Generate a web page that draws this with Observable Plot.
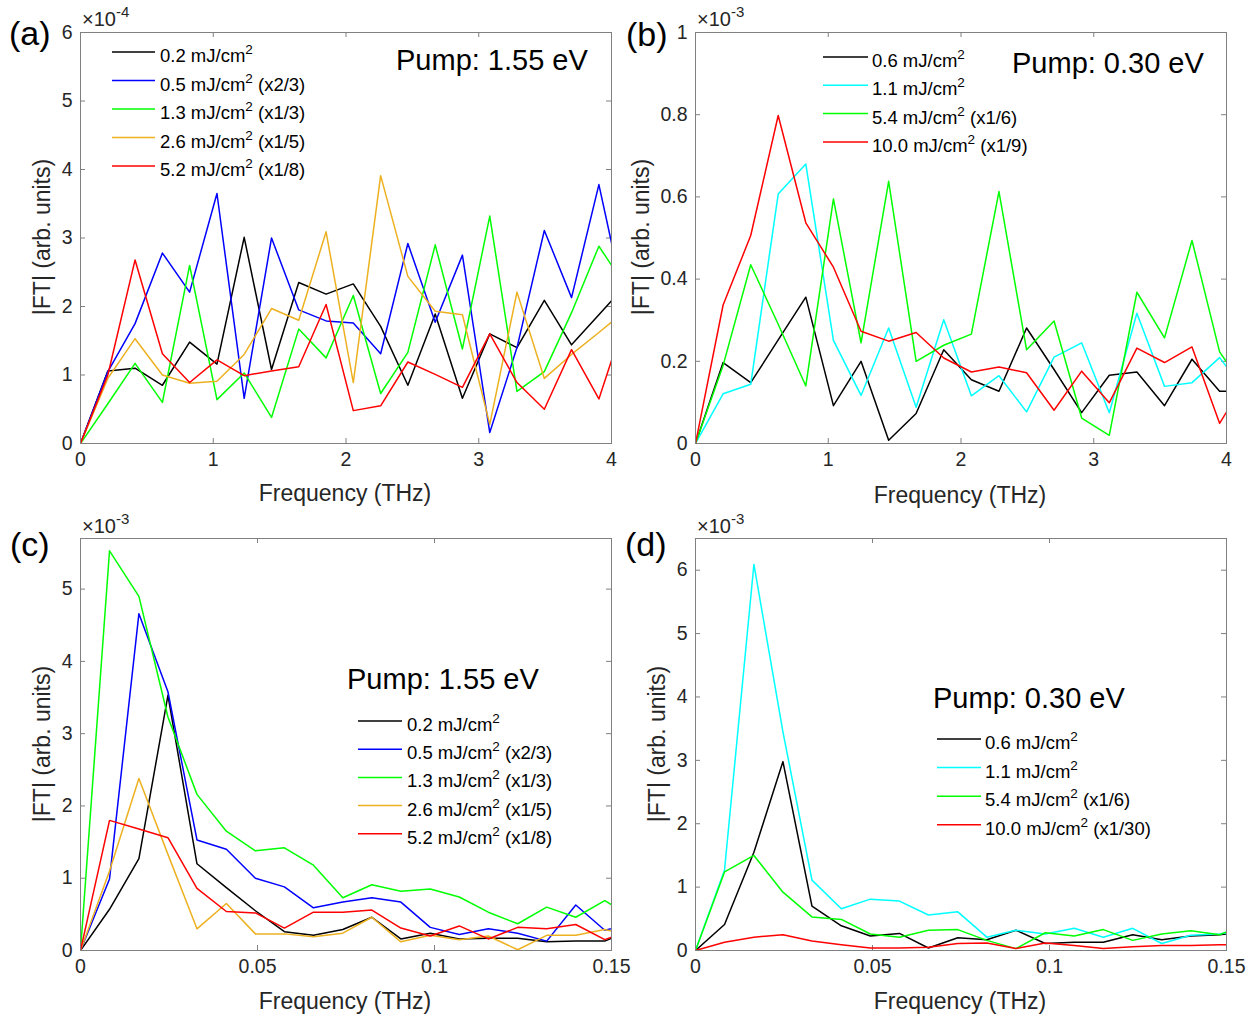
<!DOCTYPE html>
<html><head><meta charset="utf-8">
<script src="https://cdn.jsdelivr.net/npm/d3@7"></script>
<script src="https://cdn.jsdelivr.net/npm/@observablehq/plot@0.6"></script>
<style>
body{margin:0;background:#fff;font-family:"Liberation Sans",Arial,sans-serif;}
#wrap{position:relative;width:1260px;height:1019px;overflow:hidden;}
.panel{position:absolute;}
</style></head><body><div id="wrap"></div>
<script>
// ---------- DATA ----------
// Frequencies (THz)
const freqA = [0,0.206,0.411,0.617,0.822,1.028,1.233,1.439,1.644,1.850,2.055,2.261,2.466,2.672,2.877,3.083,3.288,3.494,3.699,3.905,4.110];
const freqB = [0,0.208,0.416,0.623,0.831,1.039,1.247,1.455,1.662,1.870,2.078,2.286,2.494,2.701,2.909,3.117,3.325,3.533,3.740,3.948,4.156];
const freqC = [0,0.0082,0.0165,0.0247,0.0329,0.0412,0.0494,0.0576,0.0658,0.0741,0.0823,0.0905,0.0988,0.1070,0.1152,0.1235,0.1317,0.1399,0.1481,0.1564];
const freqD = freqC;

// (a) Pump 1.55 eV, |FT| in units of 1e-4
const a_02 = [0,1.06,1.10,0.85,1.48,1.16,3.01,1.08,2.35,2.18,2.33,1.71,0.85,1.89,0.66,1.60,1.40,2.09,1.44,1.88,2.32];
const a_05 = [0,1.05,1.75,2.78,2.21,3.65,0.66,3.00,1.95,1.79,1.76,1.31,2.92,1.77,2.75,0.16,1.40,3.11,2.13,3.78,1.95];
const a_13 = [0,0.58,1.17,0.60,2.60,0.64,1.03,0.38,1.67,1.25,2.16,0.73,1.33,2.90,1.38,3.32,0.76,1.05,1.91,2.88,2.28];
const a_26 = [0,0.95,1.53,1.00,0.88,0.91,1.30,1.97,1.80,3.09,0.89,3.91,2.44,1.93,1.88,0.28,2.21,0.95,1.30,1.62,1.95];
const a_52 = [0,1.00,2.68,1.31,0.89,1.22,0.99,1.06,1.12,2.03,0.48,0.55,1.19,1.01,0.82,1.60,0.89,0.50,1.37,0.65,1.86];

// (b) Pump 0.30 eV, units of 1e-3
const b_06 = [0,0.197,0.148,0.252,0.356,0.092,0.200,0.008,0.073,0.228,0.155,0.127,0.281,0.180,0.075,0.166,0.174,0.092,0.205,0.127,0.127];
const b_11 = [0,0.121,0.144,0.607,0.680,0.251,0.117,0.281,0.088,0.301,0.116,0.165,0.077,0.210,0.245,0.075,0.317,0.139,0.148,0.209,0.120];
const b_54 = [0,0.190,0.435,0.290,0.140,0.595,0.245,0.638,0.200,0.239,0.266,0.613,0.228,0.298,0.062,0.020,0.368,0.257,0.494,0.223,0.125];
const b_100 = [0,0.337,0.506,0.798,0.537,0.429,0.273,0.249,0.270,0.208,0.174,0.186,0.172,0.081,0.176,0.099,0.232,0.197,0.235,0.049,0.159];

// (c) Pump 1.55 eV, units of 1e-3
const c_02 = [0,0.57,1.27,3.53,1.20,0.87,0.55,0.26,0.21,0.29,0.46,0.16,0.24,0.16,0.17,0.17,0.12,0.13,0.13,0.30];
const c_05 = [0,0.99,4.66,3.58,1.53,1.40,1.00,0.88,0.59,0.67,0.73,0.67,0.32,0.22,0.30,0.24,0.13,0.63,0.28,0.38];
const c_13 = [0,5.53,4.90,3.23,2.16,1.65,1.38,1.42,1.18,0.73,0.91,0.82,0.85,0.74,0.53,0.37,0.60,0.46,0.69,0.44];
const c_26 = [0,1.10,2.38,1.33,0.30,0.65,0.23,0.23,0.19,0.24,0.46,0.12,0.21,0.15,0.20,0.01,0.21,0.21,0.29,0.20];
const c_52 = [0,1.80,1.68,1.56,0.86,0.54,0.52,0.31,0.53,0.53,0.56,0.31,0.20,0.34,0.16,0.32,0.30,0.36,0.15,0.30];

// (d) Pump 0.30 eV, units of 1e-3
const d_06 = [0,0.41,1.55,2.98,0.70,0.39,0.23,0.27,0.04,0.20,0.17,0.32,0.11,0.13,0.13,0.25,0.17,0.23,0.25,0.30];
const d_11 = [0,1.27,6.09,3.45,1.11,0.66,0.81,0.78,0.56,0.61,0.21,0.32,0.26,0.35,0.21,0.35,0.11,0.24,0.26,0.35];
const d_54 = [0,1.24,1.50,0.92,0.53,0.49,0.26,0.21,0.32,0.33,0.16,0.03,0.28,0.23,0.33,0.16,0.26,0.31,0.25,0.45];
const d_100 = [0,0.13,0.21,0.25,0.15,0.09,0.04,0.04,0.05,0.11,0.12,0.03,0.12,0.08,0.03,0.06,0.08,0.08,0.09,0.09];

// Legend labels [main, suffix]
const legend155 = [["0.2 mJ/cm",""],["0.5 mJ/cm"," (x2/3)"],["1.3 mJ/cm"," (x1/3)"],["2.6 mJ/cm"," (x1/5)"],["5.2 mJ/cm"," (x1/8)"]];
const legend030b = [["0.6 mJ/cm",""],["1.1 mJ/cm",""],["5.4 mJ/cm"," (x1/6)"],["10.0 mJ/cm"," (x1/9)"]];
const legend030d = [["0.6 mJ/cm",""],["1.1 mJ/cm",""],["5.4 mJ/cm"," (x1/6)"],["10.0 mJ/cm"," (x1/30)"]];
const colors155 = ["#000000","#0000ff","#00ff00","#edb120","#ff0000"];
const colors030 = ["#000000","#00ffff","#00ff00","#ff0000"];

const ticksA_x = [0,1,2,3,4], ticksA_y = [0,1,2,3,4,5,6];
const ticksB_x = [0,1,2,3,4], ticksB_y = [0,0.2,0.4,0.6,0.8,1];
const ticksC_x = [0,0.05,0.1,0.15], ticksC_y = [0,1,2,3,4,5];
const ticksD_x = [0,0.05,0.1,0.15], ticksD_y = [0,1,2,3,4,5,6];

// ---------- DRAW ----------
const wrap = document.getElementById("wrap");
const AX = "#808080", TXT = "#262626";

function panel(cfg) {
  const {left, top, width, height, mt, mb, ml, mr, xDomain, yDomain, xTicks, yTicks, freq, series, colors} = cfg;
  const iw = width - ml - mr, ih = height - mt - mb, tl = 5;
  const dxT = tl * (xDomain[1] - xDomain[0]) / iw;
  const dyT = tl * (yDomain[1] - yDomain[0]) / ih;
  const marks = [
    Plot.ruleX(xTicks, {x: d => d, y1: yDomain[0], y2: yDomain[0] + dyT, stroke: AX}),
    Plot.ruleX(xTicks, {x: d => d, y1: yDomain[1] - dyT, y2: yDomain[1], stroke: AX}),
    Plot.ruleY(yTicks, {y: d => d, x1: xDomain[0], x2: xDomain[0] + dxT, stroke: AX}),
    Plot.ruleY(yTicks, {y: d => d, x1: xDomain[1] - dxT, x2: xDomain[1], stroke: AX}),
    Plot.axisX({ticks: xTicks, tickSize: 0, tickPadding: 9, tickFormat: d => String(d), label: null, fill: TXT}),
    Plot.axisY({ticks: yTicks, tickSize: 0, tickPadding: 8, tickFormat: d => String(d), label: null, fill: TXT}),
    ...series.map((vals, i) => Plot.line(freq.map((f, j) => ({f, v: vals[j]})), {x: "f", y: "v", stroke: colors[i], strokeWidth: 1.5, clip: true})),
    Plot.frame({stroke: AX, strokeWidth: 1})
  ];
  const svg = Plot.plot({
    width, height, marginTop: mt, marginBottom: mb, marginLeft: ml, marginRight: mr,
    x: {domain: xDomain}, y: {domain: yDomain},
    style: {fontFamily: "'Liberation Sans', Arial, sans-serif", fontSize: "19.5px", color: TXT, background: "transparent", overflow: "visible"},
    marks
  });
  const div = document.createElement("div");
  div.className = "panel";
  div.style.left = left + "px"; div.style.top = top + "px";
  div.appendChild(svg);
  wrap.appendChild(div);
  const g = d3.select(svg).append("g").attr("font-family", "'Liberation Sans', Arial, sans-serif")
    .attr("fill", TXT).attr("text-anchor", "start");
  const L = x => x - left, T = y => y - top;

  // legend
  const lg = cfg.legend;
  lg.items.forEach((it, i) => {
    const y = lg.y0 + i * lg.dy;
    g.append("line").attr("x1", L(lg.x1)).attr("x2", L(lg.x2)).attr("y1", T(y)).attr("y2", T(y))
      .attr("stroke", colors[i]).attr("stroke-width", 1.5);
    const t = g.append("text").attr("x", L(lg.tx)).attr("y", T(y + lg.base)).attr("font-size", 18.5).attr("fill", "#000");
    t.append("tspan").text(it[0]);
    t.append("tspan").attr("dy", -8).attr("font-size", 13.5).text("2");
    if (it[1]) t.append("tspan").attr("dy", 8).text(it[1]);
  });
  // pump text
  g.append("text").attr("x", L(cfg.pump.x)).attr("y", T(cfg.pump.y)).attr("font-size", 29).attr("fill", "#000").text(cfg.pump.text);
  // panel tag
  g.append("text").attr("x", L(cfg.tag.x)).attr("y", T(cfg.tag.y)).attr("font-size", 34).attr("fill", "#000").text(cfg.tag.text);
  // exponent
  const ex = g.append("text").attr("x", L(cfg.exp.x)).attr("y", T(cfg.exp.y)).attr("font-size", 20);
  ex.append("tspan").text("\u00d710");
  ex.append("tspan").attr("dy", -9).attr("font-size", 15).text(cfg.exp.text);
  // axis labels
  g.append("text").attr("x", L(cfg.xlab.x)).attr("y", T(cfg.xlab.y)).attr("text-anchor", "middle").attr("font-size", 23).text("Frequency (THz)");
  g.append("text").attr("transform", `translate(${L(cfg.ylab.x)},${T(cfg.ylab.y)}) rotate(-90)`).attr("dy", "0.35em")
    .attr("text-anchor", "middle").attr("font-size", 23).text("|FT| (arb. units)");
}

panel({left: 0, top: 0, width: 630, height: 520, mt: 32, mb: 77, ml: 80, mr: 19,
  xDomain: [0, 4], yDomain: [0, 6], xTicks: ticksA_x, yTicks: ticksA_y, freq: freqA,
  series: [a_02, a_05, a_13, a_26, a_52], colors: colors155,
  legend: {items: legend155, x1: 112, x2: 155, tx: 160, y0: 52, dy: 28.5, base: 10},
  pump: {text: "Pump: 1.55 eV", x: 396, y: 70}, tag: {text: "(a)", x: 9, y: 45},
  exp: {text: "-4", x: 82, y: 26}, xlab: {x: 345, y: 501}, ylab: {x: 42, y: 237}});

panel({left: 615, top: 0, width: 630, height: 520, mt: 32, mb: 77, ml: 80, mr: 19,
  xDomain: [0, 4], yDomain: [0, 1], xTicks: ticksB_x, yTicks: ticksB_y, freq: freqB,
  series: [b_06, b_11, b_54, b_100], colors: colors030,
  legend: {items: legend030b, x1: 823, x2: 868, tx: 872, y0: 57, dy: 28.3, base: 10},
  pump: {text: "Pump: 0.30 eV", x: 1012, y: 73}, tag: {text: "(b)", x: 626, y: 46},
  exp: {text: "-3", x: 697, y: 26}, xlab: {x: 960, y: 503}, ylab: {x: 641, y: 237}});

panel({left: 0, top: 506, width: 630, height: 513, mt: 32, mb: 69, ml: 80, mr: 19,
  xDomain: [0, 0.15], yDomain: [0, 5.7], xTicks: ticksC_x, yTicks: ticksC_y, freq: freqC,
  series: [c_02, c_05, c_13, c_26, c_52], colors: colors155,
  legend: {items: legend155, x1: 358, x2: 402, tx: 407, y0: 721, dy: 28.2, base: 10},
  pump: {text: "Pump: 1.55 eV", x: 347, y: 689}, tag: {text: "(c)", x: 10, y: 556},
  exp: {text: "-3", x: 82, y: 533}, xlab: {x: 345, y: 1009}, ylab: {x: 42, y: 744}});

panel({left: 615, top: 506, width: 630, height: 513, mt: 32, mb: 69, ml: 80, mr: 19,
  xDomain: [0, 0.15], yDomain: [0, 6.5], xTicks: ticksD_x, yTicks: ticksD_y, freq: freqD,
  series: [d_06, d_11, d_54, d_100], colors: colors030,
  legend: {items: legend030d, x1: 937, x2: 981, tx: 985, y0: 739, dy: 28.6, base: 10},
  pump: {text: "Pump: 0.30 eV", x: 933, y: 708}, tag: {text: "(d)", x: 625, y: 556},
  exp: {text: "-3", x: 697, y: 533}, xlab: {x: 960, y: 1009}, ylab: {x: 657, y: 744}});
</script></body></html>
